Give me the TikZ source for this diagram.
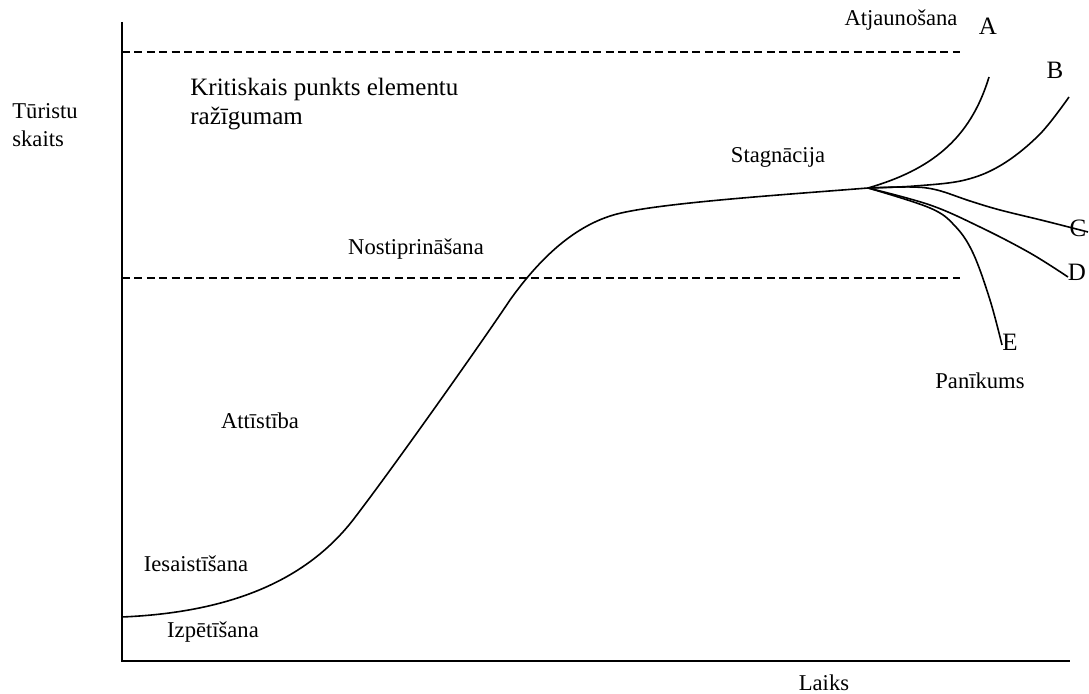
\documentclass[tikz,border=0pt]{standalone}
\usepackage{fontspec}
\setmainfont{Liberation Serif}
\begin{document}
\begin{tikzpicture}[x = 0.5pt, y = -0.5pt]
        \tikzstyle{every node} = [inner sep = 0pt, font = \fontsize{11.3}{14}\selectfont]
        \tikzstyle{axis} = [line width = 1pt]
        \tikzstyle{limit} = [line width = 0.6pt, dash pattern = on 4pt off 2.2pt]
        \tikzstyle{curve} = [line width = 0.8pt, line join = round]
        \tikzstyle{letter} = [font = \fontsize{12.5}{15}\selectfont]
        \useasboundingbox (0,0) rectangle (1089,694);
        % axes
        \draw [axis] (122,22) -- (122,661) -- (1070,661);
        % limits
        \draw [limit] (122,52) -- (960,52);
        \draw [limit] (122,278) -- (960,278);
        % life cycle
        \coordinate (Start) at (122,617);
        \coordinate (Split) at (868,188);
        \draw [curve] (Start) .. controls (240,612) and (310,575) .. (353,520)
                .. controls (390,472) and (480,345) .. (510,300)
                .. controls (540,258) and (575,225) .. (617,214)
                .. controls (660,203) and (780,195) .. (Split);
        \draw [curve] (Split) .. controls (930,170) and (970,140) .. (989,77);
        \draw [curve] plot [smooth, tension = 0.6] coordinates {(868,188) (915,186) (965,180) (1003,164) (1040,134) (1069,97)};
        \draw [curve] plot [smooth, tension = 0.6] coordinates {(868,188) (912,187) (937,190) (970,201) (1000,210) (1045,221) (1088,232)};
        \draw [curve] plot [smooth, tension = 0.6] coordinates {(868,188) (930,205) (980,227) (1030,253) (1068,277)};
        \draw [curve] plot [smooth, tension = 0.6] coordinates {(868,188) (930,208) (955,226) (973,253) (990,300) (1002,345)};
        % labels
        \node (Turistu) [anchor = west, align = left] at (12,125) {Tūristu\\skaits};
        \node (Laiks) at (824,683) {Laiks};
        \node (Kritiskais) [anchor = west, align = left, font = \fontsize{12.5}{14.5}\selectfont] at (190,104) {Kritiskais punkts elementu\\ražīgumam};
        \node (Atjaunosana) at (901,20) {Atjaunošana};
        \node (Stagnacija) at (778,157) {Stagnācija};
        \node (Nostiprinasana) at (416,249) {Nostiprināšana};
        \node (Attistiba) at (260,421) {Attīstība};
        \node (Iesaistisana) at (196,564) {Iesaistīšana};
        \node (Izpetisana) at (213,632) {Izpētīšana};
        \node (Panikums) at (980,381) {Panīkums};
        \node (A) [letter] at (988,26) {A};
        \node (B) [letter] at (1055,70) {B};
        \node (C) [letter] at (1078,228) {C};
        \node (D) [letter] at (1077,272) {D};
        \node (E) [letter] at (1010,342) {E};
\end{tikzpicture}
\end{document}
